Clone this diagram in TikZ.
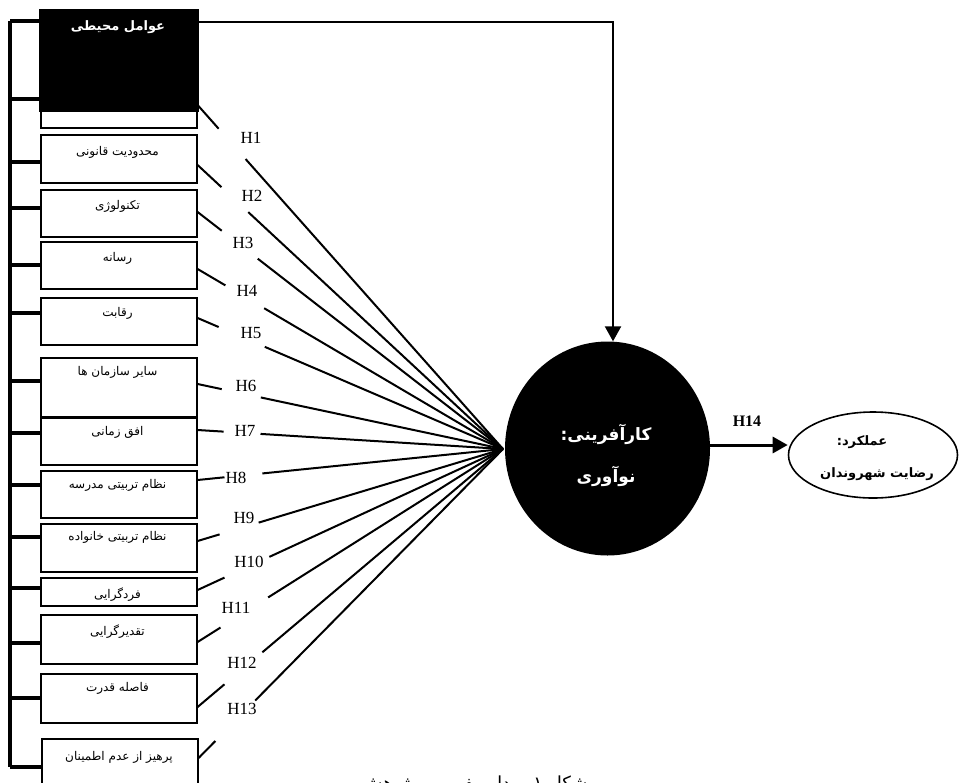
\documentclass[tikz,border=0pt]{standalone}
\usepackage{fontspec}
\setmainfont{Liberation Serif}
\newfontfamily\fa[Script=Arabic]{DejaVu Sans}
\TeXXeTstate=1
\usetikzlibrary{arrows.meta,calc,shapes.geometric}
\newcommand{\rl}[1]{\beginR #1\endR}
\begin{document}
\begin{tikzpicture}[x=1pt,y=-1pt,
  fbox/.style={draw, fill=white, line width=1.6pt, minimum width=156pt, anchor=north west, inner sep=0pt},
  ftext/.style={font=\fa\fontsize{12}{14}\selectfont, inner sep=0pt},
  bus/.style={line width=3.4pt},
  hline/.style={line width=2pt},
  hlab/.style={font=\fontsize{17}{17}\selectfont, inner sep=0pt},
  conn/.style={line width=2.2pt},
  tip/.style={-{Triangle[length=15pt,width=16pt]}}
]
\useasboundingbox (0,0) rectangle (960,782);

% factor boxes
\node[fbox, minimum height=57pt] (b1) at (40,70) {};
\node[fbox, minimum height=48pt] (b2) at (40,134) {};
\node[fbox, minimum height=47pt] (b3) at (40,189) {};
\node[fbox, minimum height=47pt] (b4) at (40,241) {};
\node[fbox, minimum height=47pt] (b5) at (40,297) {};
\node[fbox, minimum height=59pt] (b6) at (40,357) {};
\node[fbox, minimum height=47pt] (b7) at (40,417) {};
\node[fbox, minimum height=47pt] (b8) at (40,470) {};
\node[fbox, minimum height=48pt] (b9) at (40,523) {};
\node[fbox, minimum height=28pt] (b10) at (40,577) {};
\node[fbox, minimum height=49pt] (b11) at (40,614) {};
\node[fbox, minimum height=49pt] (b12) at (40,673) {};
\node[fbox, minimum height=62pt] (b13) at (41,738) {};

\node[ftext] (t2) at (117.5,152) {\rl{محدودیت قانونی}};
\node[ftext] (t3) at (117.5,206) {\rl{تکنولوژی}};
\node[ftext] (t4) at (117.5,258) {\rl{رسانه}};
\node[ftext] (t5) at (117.5,313) {\rl{رقابت}};
\node[ftext] (t6) at (117.5,372) {\rl{سایر سازمان ها}};
\node[ftext] (t7) at (117.5,432) {\rl{افق زمانی}};
\node[ftext] (t8) at (117.5,485) {\rl{نظام تربیتی مدرسه}};
\node[ftext] (t9) at (117.5,537) {\rl{نظام تربیتی خانواده}};
\node[ftext] (t10) at (117.5,595) {\rl{فردگرایی}};
\node[ftext] (t11) at (117.5,632) {\rl{تقدیرگرایی}};
\node[ftext] (t12) at (117.5,688) {\rl{فاصله قدرت}};
\node[ftext] (t13) at (119,757) {\rl{پرهیز از عدم اطمینان}};

% black header box
\node[fill=black, minimum width=160pt, minimum height=103pt, anchor=north west, inner sep=0pt] (blk) at (39,9) {};
\node[font=\fa\bfseries\fontsize{13}{15}\selectfont, text=white, inner sep=0pt] (ttl) at (118,27) {\rl{عوامل محیطی}};

% bus
\coordinate (bt) at (10,21);
\coordinate (bb) at (10,767);
\draw[bus] (bt) -- (bb);
\draw[bus] (bt) -- (blk.west |- bt);
\draw[bus] (bt |- 0,99) -- (blk.west |- 0,99);
\foreach \i/\y in {2/162,3/208,4/265,5/313,6/381,7/433,8/485,9/537,10/588,11/643,12/698,13/767}
  \draw[bus] (bt |- 0,\y) -- (b\i.west |- 0,\y);

% hypotheses lines
\coordinate (c) at (503,449);
\foreach \i/\sy/\ta/\tb/\lx/\ly in {
  1/105/0.069/0.157/251/138,
  2/165/0.078/0.166/252/196,
  3/212/0.079/0.197/243/243,
  4/269/0.091/0.218/247/291,
  5/318/0.069/0.220/251/333,
  6/384/0.079/0.207/246/386,
  7/430/0.085/0.206/245/431,
  8/480/0.088/0.212/236/478,
  9/541/0.072/0.200/244/518,
  10/590/0.088/0.235/249/562,
  11/642/0.075/0.231/236/608,
  12/707/0.088/0.212/242/663,
  13/758/0.055/0.186/242/709}
{
  \coordinate (s\i) at (b\i.east |- 0,\sy);
  \draw[hline] (s\i) -- ($(s\i)!\ta!(c)$);
  \draw[hline] ($(s\i)!\tb!(c)$) -- (c);
  \node[hlab] (h\i) at (\lx,\ly) {H\i};
}

% central construct
\node[ellipse, fill=black, minimum width=205pt, minimum height=214pt, inner sep=0pt] (inno) at (607.5,448.5) {};
\node[font=\fa\bfseries\fontsize{17}{19}\selectfont, text=white, inner sep=0pt] (in1) at (606,434) {\rl{کارآفرینی:}};
\node[font=\fa\bfseries\fontsize{17}{19}\selectfont, text=white, inner sep=0pt] (in2) at (606,476) {\rl{نوآوری}};

% outcome
\node[ellipse, draw, fill=white, line width=1.6pt, minimum width=169pt, minimum height=86pt, inner sep=0pt] (perf) at (873,455) {};
\node[font=\fa\bfseries\fontsize{13}{15}\selectfont, inner sep=0pt] (pf1) at (862,442) {\rl{عملکرد:}};
\node[font=\fa\bfseries\fontsize{13}{15}\selectfont, inner sep=0pt] (pf2) at (877,474) {\rl{رضایت شهروندان}};

% arrows
\draw[conn, tip] (blk.east |- 0,22) -| ([xshift=5.5pt]inno.north);
\draw[line width=3pt, tip] (inno.east |- 0,445) -- (perf.west |- 0,445);
\node[font=\bfseries\fontsize{16}{16}\selectfont, inner sep=0pt] (h14) at (747,421) {H14};

% caption (cut off by the page edge, as in the reference)
\node[font=\fa\fontsize{18}{18}\selectfont, anchor=base, inner sep=0pt] (cap) at (474,789) {\rl{شکل ۱- مدل مفهومی پژوهش}};
\end{tikzpicture}
\end{document}
